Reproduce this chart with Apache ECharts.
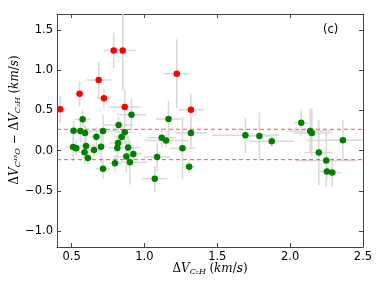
<!DOCTYPE html>
<html><head><meta charset="utf-8">
<script src="https://cdn.jsdelivr.net/npm/echarts@6/dist/echarts.min.js"></script>
<style>html,body{margin:0;padding:0;background:#fff}#c{width:382px;height:291px}</style>
</head><body><div id="c"></div>
<script>
// Red points (outliers)
const redX    = [0.422, 0.555, 0.686, 0.722, 0.789, 0.851, 0.865, 1.222, 1.319];
const redY    = [0.513, 0.708, 0.878, 0.650, 1.247, 1.247, 0.542, 0.957, 0.509];
const redXerr = [0.04, 0.03, 0.085, 0.05, 0.07, 0.09, 0.11, 0.09, 0.085];
const redYerr = [0.17, 0.16, 0.23, 0.11, 0.22, 0.50, 0.22, 0.43, 0.20];
// Green points
const greenX = [0.514,0.511,0.532,0.576,0.560,0.592,0.599,0.589,0.612,0.654,0.670,0.702,0.716,0.716,0.798,0.814,0.819,0.823,0.844,0.865,0.876,0.888,0.901,0.911,0.924,1.071,1.087,1.119,1.149,1.165,1.261,1.307,1.319,1.693,1.789,1.874,2.076,2.138,2.149,2.197,2.248,2.252,2.289,2.362];
const greenY = [0.248,0.045,0.029,0.389,0.244,0.219,0.057,-0.021,-0.092,0.008,0.173,0.049,0.244,-0.225,-0.158,0.033,0.095,0.318,0.169,0.227,-0.075,0.037,-0.146,0.447,-0.041,-0.349,-0.080,0.160,0.124,0.393,0.029,-0.200,0.219,0.190,0.182,0.116,0.345,0.244,0.219,-0.025,-0.124,-0.261,-0.273,0.129];
const greenXerr = [0.03,0.05,0.04,0.055,0.03,0.04,0.06,0.04,0.04,0.05,0.04,0.04,0.10,0.05,0.04,0.06,0.06,0.10,0.05,0.06,0.08,0.08,0.12,0.10,0.06,0.085,0.09,0.10,0.15,0.085,0.09,0.04,0.11,0.23,0.10,0.15,0.05,0.15,0.13,0.10,0.21,0.06,0.06,0.25];
const greenYerr = [0.12,0.18,0.10,0.12,0.14,0.10,0.12,0.15,0.08,0.08,0.12,0.20,0.20,0.13,0.10,0.15,0.10,0.10,0.10,0.12,0.20,0.12,0.28,0.20,0.08,0.16,0.18,0.12,0.09,0.23,0.39,0.08,0.18,0.22,0.29,0.07,0.17,0.28,0.30,0.41,0.33,0.09,0.18,0.25];
// Dashed reference levels
const dashLevels = [0.265, -0.113];
const xTicks = [0.5, 1.0, 1.5, 2.0, 2.5];
const yTicks = [-1.0, -0.5, 0.0, 0.5, 1.0, 1.5];
const X_MIN = 0.4, X_MAX = 2.5, Y_MIN = -1.2, Y_MAX = 1.7;

const allErr = [];
redX.forEach((x,i)=>allErr.push([x, redY[i], redXerr[i], redYerr[i]]));
greenX.forEach((x,i)=>allErr.push([x, greenY[i], greenXerr[i], greenYerr[i]]));

const chart = echarts.init(document.getElementById('c'), null, {renderer:'canvas'});
const axisCol = '#444';
const fnt = 'DejaVu Sans';
const fmt1 = function(v){ const n = Number(v); return (n<0?'\u2212':'') + Math.abs(n).toFixed(1); };
function mkX(show, pos){
  const a = {type:'value', min:X_MIN, max:X_MAX,
    axisLine:{show:true, onZero:false, lineStyle:{color:axisCol, width:1}},
    axisTick:{show:true, inside:true, length:4, lineStyle:{color:axisCol}},
    splitLine:{show:false},
    axisLabel:{show:show, color:'#000', fontFamily:fnt, fontSize:11.5, margin:4,
      customValues:xTicks, formatter:fmt1}};
  if (pos === 'top') a.position = 'top';
  return a;
}
function mkY(show, pos){
  return {type:'value', min:Y_MIN, max:Y_MAX, position:pos,
    axisLine:{show:true, onZero:false, lineStyle:{color:axisCol, width:1}},
    axisTick:{show:true, inside:true, length:4, lineStyle:{color:axisCol},
      customValues: yTicks},
    axisLabel:{show:show, color:'#000', fontFamily:fnt, fontSize:11.5, margin:4,
      customValues: yTicks, formatter:fmt1},
    splitLine:{show:false}};
}
const richT = {
  m:{fontFamily:'DejaVu Serif', fontSize:12, fill:'#000'},
  v:{fontFamily:'DejaVu Serif', fontStyle:'italic', fontSize:12, fill:'#000'},
  s:{fontFamily:'DejaVu Serif', fontStyle:'italic', fontSize:8, fill:'#000', verticalAlign:'bottom', padding:[6,0,0,0]}
};
const opt = {
  animation:false,
  grid:{left:57, right:19, top:14, bottom:44, containLabel:false},
  xAxis:[mkX(true,'bottom'), mkX(false,'top')],
  yAxis:[mkY(true,'left'), mkY(false,'right')],
  series:[
    {type:'custom', xAxisIndex:0, yAxisIndex:0, clip:true, z:1,
      data: allErr,
      renderItem:(params, api)=>{
        const x=api.value(0), y=api.value(1), xe=api.value(2), ye=api.value(3);
        const a=api.coord([x-xe,y]), b=api.coord([x+xe,y]);
        const c=api.coord([x,y-ye]), d=api.coord([x,y+ye]);
        const st={stroke:'#d9d9d9', lineWidth:1.5};
        return {type:'group', children:[
          {type:'line', shape:{x1:a[0],y1:a[1],x2:b[0],y2:b[1]}, style:st},
          {type:'line', shape:{x1:c[0],y1:c[1],x2:d[0],y2:d[1]}, style:st}
        ]};
      }},
    {type:'custom', xAxisIndex:0, yAxisIndex:0, clip:true, z:2,
      data: dashLevels.map(v=>[v]),
      renderItem:(params, api)=>{
        const v=api.value(0);
        const a=api.coord([X_MIN, v]), b=api.coord([X_MAX, v]);
        return {type:'line', shape:{x1:a[0], y1:a[1], x2:b[0], y2:b[1]},
          style:{stroke:'#ff5050', lineWidth:1, lineDash:[4,3]}};
      }},
    {type:'scatter', z:3, symbolSize:6.5, itemStyle:{color:'#008000', opacity:1},
      data: greenX.map((x,i)=>[x, greenY[i]])},
    {type:'scatter', z:4, symbolSize:6.5, itemStyle:{color:'#ff0000', opacity:1},
      data: redX.map((x,i)=>[x, redY[i]])}
  ],
  graphic:[
    {type:'text', left:323, top:24, style:{text:'(c)', font:'11.5px DejaVu Sans', fill:'#000'}},
    {type:'text', x:210, y:269, style:{
      text:'{m|\u0394}{v|V}{s|C\u2082H} {m|(}{v|km}{m|/}{v|s}{m|)}',
      align:'center', verticalAlign:'middle', rich:richT}},
    {type:'text', x:15, y:120, rotation:Math.PI/2, style:{
      text:'{m|\u0394}{v|V}{s|C\u00b9\u2078O}{m| \u2212 \u0394}{v|V}{s|C\u2082H} {m|(}{v|km}{m|/}{v|s}{m|)}',
      align:'center', verticalAlign:'middle', rich:richT}}
  ]
};
chart.setOption(opt);
</script></body></html>
